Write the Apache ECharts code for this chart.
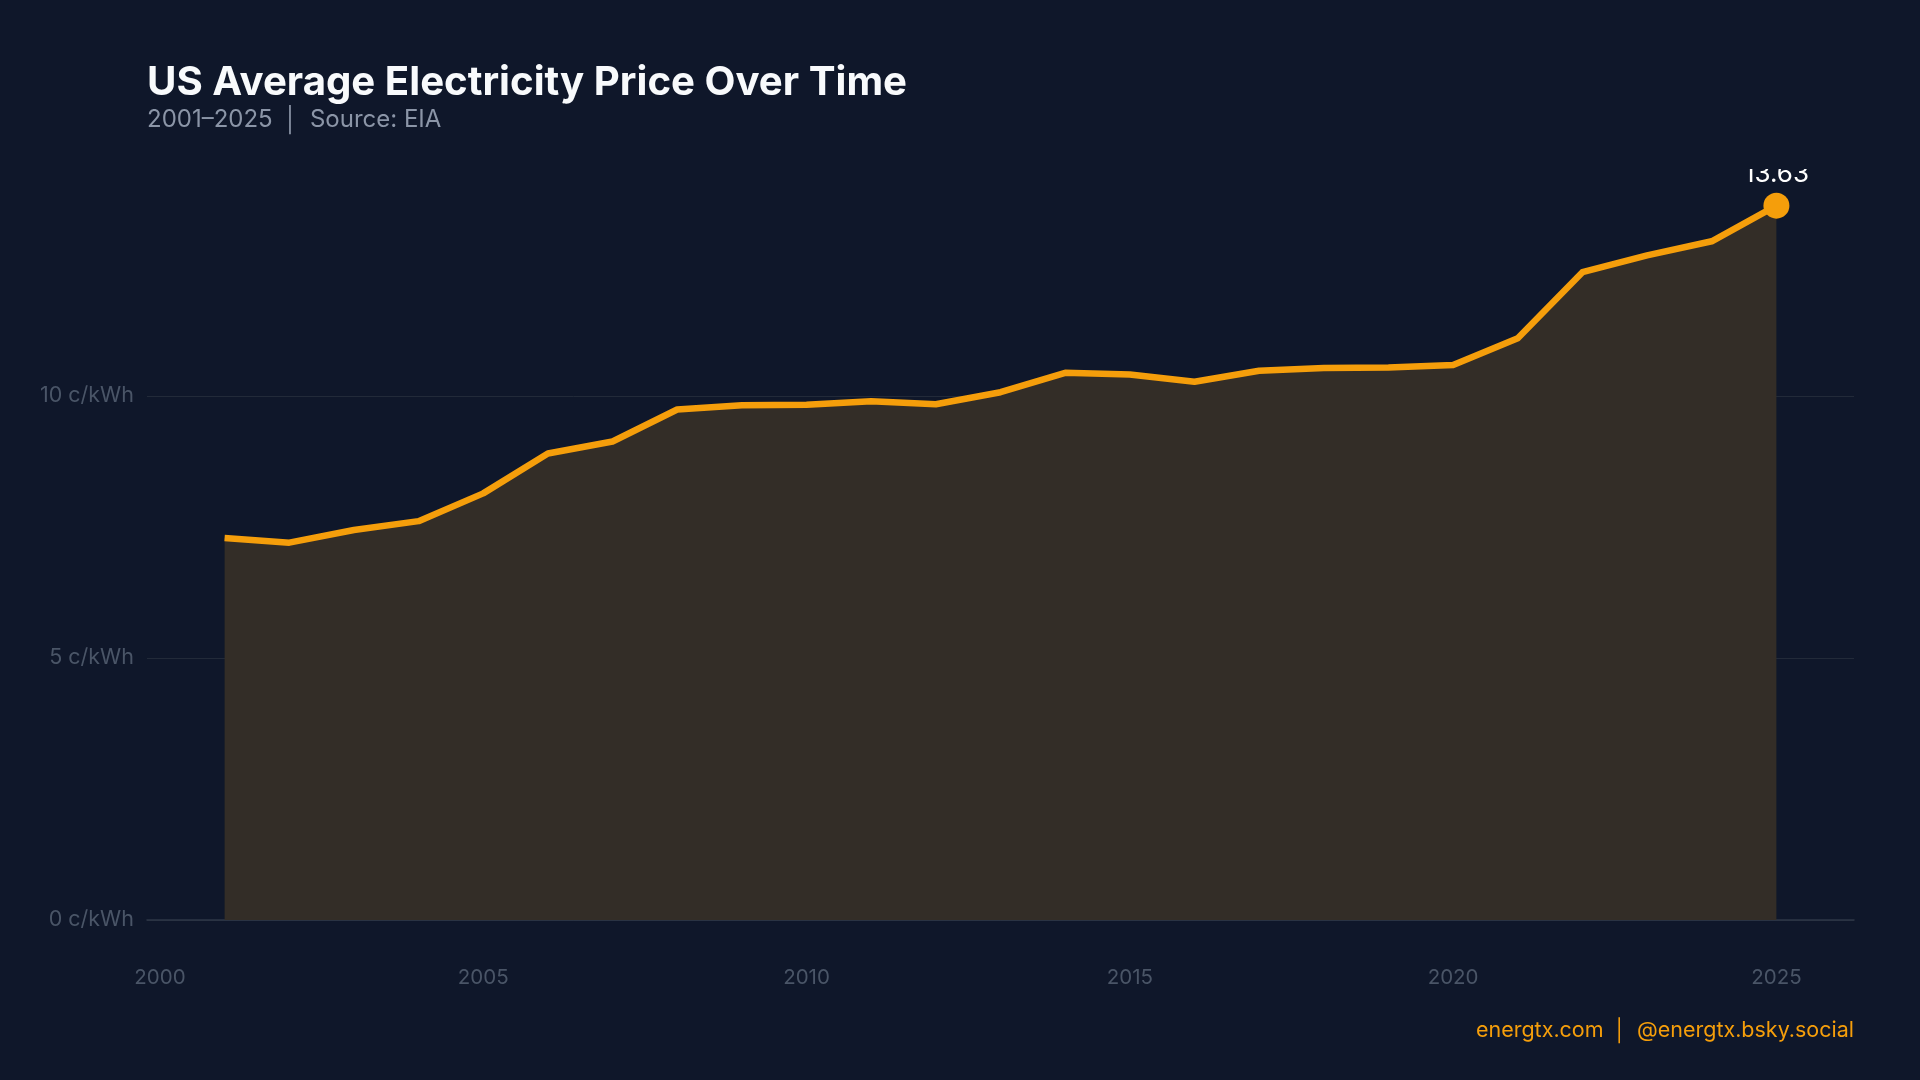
<!DOCTYPE html>
<html>
<head>
<meta charset="utf-8">
<style>
  html, body { margin: 0; padding: 0; background: #0f172a; }
  #chart { width: 1920px; height: 1080px; }
</style>
<script src="https://cdn.jsdelivr.net/npm/echarts@6/dist/echarts.min.js"></script>
</head>
<body>
<div id="chart"></div>
<script>
const years = [2001, 2002, 2003, 2004, 2005, 2006, 2007, 2008, 2009, 2010, 2011, 2012, 2013,
               2014, 2015, 2016, 2017, 2018, 2019, 2020, 2021, 2022, 2023, 2024, 2025];
const prices = [7.29, 7.20, 7.44, 7.61, 8.14, 8.90, 9.13, 9.74, 9.82, 9.83, 9.90, 9.84, 10.07,
                10.44, 10.41, 10.27, 10.48, 10.53, 10.54, 10.59, 11.10, 12.36, 12.68, 12.95, 13.63];
const xTickLabels = [2000, 2005, 2010, 2015, 2020, 2025];
const yTickLabels = [0, 5, 10];

const FONT = 'Inter, "Noto Sans", sans-serif';
const SEP = ' \u2009\u2502\u2009 ';
const lineData = years.map((y, i) => [y, prices[i]]);
const lastIdx = years.length - 1;

const chart = echarts.init(document.getElementById('chart'), null, { renderer: 'canvas' });
chart.setOption({
  backgroundColor: '#0f172a',
  animation: false,
  title: [
    {
      text: 'US Average Electricity Price Over Time',
      left: 142, top: 58,
      textStyle: { color: '#f8fafc', fontFamily: FONT, fontSize: 40.2, fontWeight: 'bold' }
    },
    {
      text: '2001–2025' + SEP + 'Source: EIA',
      left: 142, top: 103,
      textStyle: { color: '#8b95a7', fontFamily: FONT, fontSize: 24, fontWeight: 'normal' }
    },
    {
      text: 'energtx.com' + SEP + '@energtx.bsky.social',
      right: 61, top: 1015,
      textStyle: { color: '#f59e0b', fontFamily: FONT, fontSize: 21.5, fontWeight: 'normal' }
    }
  ],
  grid: { left: 147, right: 66, top: 170, bottom: 160, containLabel: false },
  xAxis: {
    type: 'value',
    min: 1999.8,
    max: 2026.2,
    axisLine: { show: true, lineStyle: { color: '#2e3747', width: 1.5 } },
    axisTick: { show: false },
    splitLine: { show: false },
    axisLabel: {
      customValues: xTickLabels,
      color: '#4a5567',
      fontFamily: FONT,
      fontSize: 20.5,
      margin: 47,
      formatter: v => String(v)
    }
  },
  yAxis: {
    type: 'value',
    min: 0,
    max: 14.31,
    interval: 5,
    axisLine: { show: false },
    axisTick: { show: false },
    splitLine: { show: true, showMaxLine: false, lineStyle: { color: '#222a39', width: 1 } },
    axisLabel: {
      showMaxLabel: false,
      color: '#4a5567',
      fontFamily: FONT,
      fontSize: 21.5,
      margin: 13,
      formatter: v => (yTickLabels.indexOf(v) >= 0 ? v + ' c/kWh' : '')
    }
  },
  series: [
    {
      type: 'line',
      data: lineData,
      symbol: 'none',
      lineStyle: { color: '#f59e0b', width: 6.5, join: 'round' },
      areaStyle: { color: '#332d27', opacity: 1 },
      z: 2
    },
    {
      type: 'scatter',
      data: [[years[lastIdx], prices[lastIdx]]],
      symbol: 'circle',
      symbolSize: 26,
      itemStyle: { color: '#f59e0b', opacity: 1 },
      label: {
        show: true,
        position: 'top',
        distance: 5,
        color: '#ffffff',
        fontFamily: FONT,
        fontSize: 26,
        formatter: p => p.value[1].toFixed(2)
      },
      z: 3
    }
  ],
  graphic: [
    {
      type: 'rect',
      z: 100,
      shape: { x: 1500, y: 136, width: 420, height: 33 },
      style: { fill: '#0f172a' }
    }
  ]
});
</script>
</body>
</html>
